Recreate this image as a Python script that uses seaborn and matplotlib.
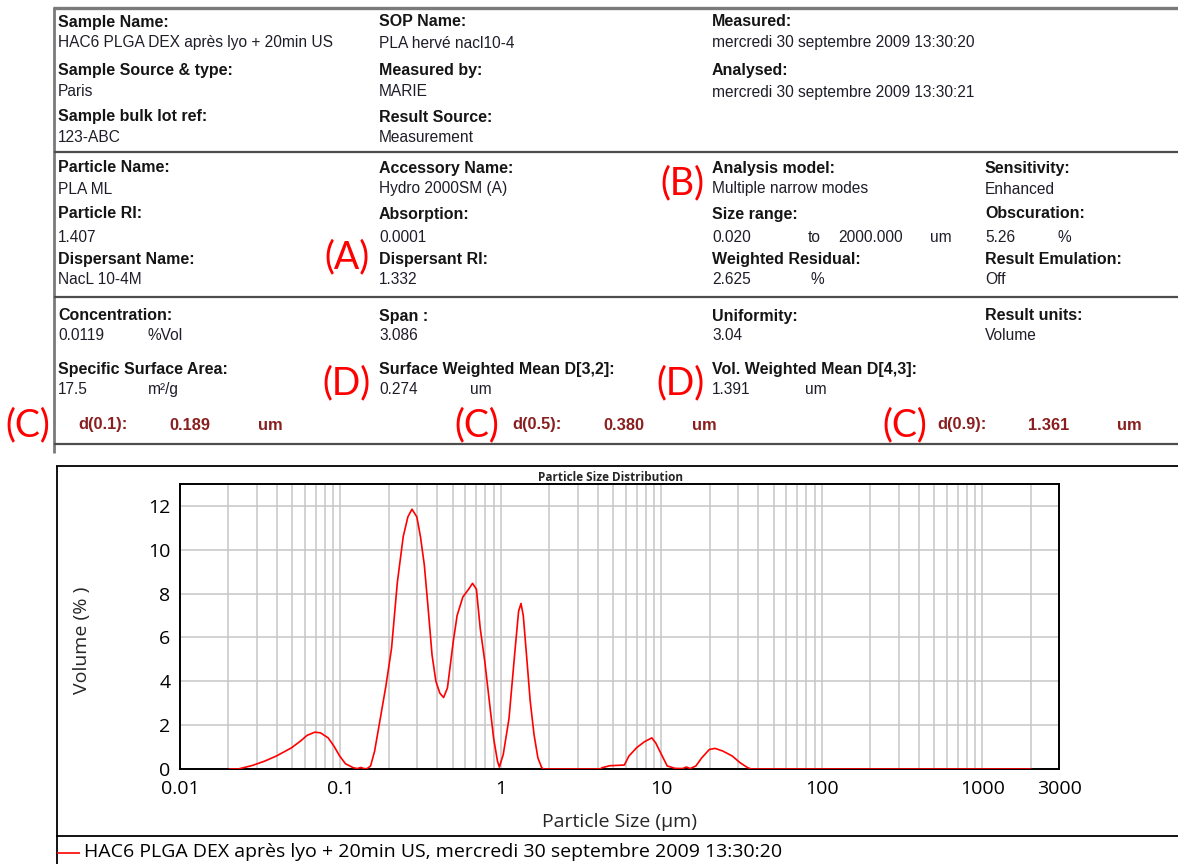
import matplotlib
matplotlib.use("Agg")
import matplotlib.pyplot as plt
from matplotlib.lines import Line2D
from matplotlib.ticker import FixedLocator, LogLocator, NullFormatter, FixedFormatter
import seaborn as sns

# ---------------------------------------------------------------------------
# Measured particle size distribution (volume %)
# ---------------------------------------------------------------------------
size_um = [
    0.0203, 0.0230, 0.0249, 0.0285, 0.0337, 0.0398, 0.0496, 0.0569, 0.0618,
    0.0691, 0.0750, 0.0838, 0.0911, 0.0989, 0.1074, 0.120, 0.127, 0.134,
    0.140, 0.146, 0.154, 0.163, 0.177, 0.192, 0.208, 0.226, 0.246, 0.263,
    0.279, 0.299, 0.315, 0.333, 0.352, 0.372, 0.393, 0.416, 0.439, 0.464,
    0.504, 0.533, 0.579, 0.629, 0.665, 0.703, 0.743, 0.793, 0.852, 0.900,
    0.951, 0.977, 1.033, 1.122, 1.219, 1.288, 1.333, 1.377, 1.439, 1.521,
    1.607, 1.698, 1.794, 1.845, 4.15, 4.27, 4.77, 5.87, 6.27, 7.00, 7.82,
    8.71, 9.21, 10.0, 10.86, 12.13, 13.53, 14.30, 15.11, 16.40, 17.83,
    19.87, 21.58, 24.09, 27.64, 30.85, 34.42, 36.37, 2000.0,
]
volume_pct = [
    0.0, 0.0, 0.06, 0.17, 0.36, 0.59, 0.97, 1.30, 1.53,
    1.68, 1.65, 1.42, 1.04, 0.59, 0.24, 0.06, 0.02, 0.07,
    0.02, 0.01, 0.14, 0.80, 2.30, 3.80, 5.50, 8.50, 10.6, 11.5,
    11.85, 11.5, 10.6, 9.3, 7.3, 5.2, 4.0, 3.46, 3.26, 3.7,
    5.8, 7.0, 7.85, 8.2, 8.47, 8.2, 6.4, 4.9, 2.9, 1.4,
    0.36, 0.09, 0.66, 2.3, 5.3, 7.2, 7.55, 7.0, 5.3, 3.1,
    1.57, 0.51, 0.06, 0.0, 0.0, 0.06, 0.15, 0.18, 0.59, 0.97, 1.24,
    1.42, 1.19, 0.66, 0.14, 0.03, 0.02, 0.09, 0.02, 0.14, 0.51,
    0.89, 0.94, 0.82, 0.59, 0.29, 0.06, 0.0, 0.0,
]

x_ticks = [0.01, 0.1, 1, 10, 100, 1000, 3000]
x_tick_labels = ["0.01", "0.1", "1", "10", "100", "1000", "3000"]
y_ticks = [0, 2, 4, 6, 8, 10, 12]

chart_title = "Particle Size Distribution"
x_label = "Particle Size (µm)"
y_label = "Volume (% )"
series_label = "HAC6 PLGA DEX après lyo + 20min US, mercredi 30 septembre 2009 13:30:20"

# ---------------------------------------------------------------------------
# Report header fields: (label, value pieces)
# ---------------------------------------------------------------------------
sample_fields = [
    [("Sample Name:", ["HAC6 PLGA DEX après lyo + 20min US"]),
     ("Sample Source & type:", ["Paris"]),
     ("Sample bulk lot ref:", ["123-ABC"])],
    [("SOP Name:", ["PLA hervé nacl10-4"]),
     ("Measured by:", ["MARIE"]),
     ("Result Source:", ["Measurement"])],
    [("Measured:", ["mercredi 30 septembre 2009 13:30:20"]),
     ("Analysed:", ["mercredi 30 septembre 2009 13:30:21"])],
]
optics_fields = [
    [("Particle Name:", ["PLA ML"]),
     ("Particle RI:", ["1.407"]),
     ("Dispersant Name:", ["NacL 10-4M"])],
    [("Accessory Name:", ["Hydro 2000SM (A)"]),
     ("Absorption:", ["0.0001"]),
     ("Dispersant RI:", ["1.332"])],
    [("Analysis model:", ["Multiple narrow modes"]),
     ("Size range:", ["0.020", "to", "2000.000", "um"]),
     ("Weighted Residual:", ["2.625", "%"])],
    [("Sensitivity:", ["Enhanced"]),
     ("Obscuration:", ["5.26", "%"]),
     ("Result Emulation:", ["Off"])],
]
result_fields = [
    [("Concentration:", ["0.0119", "%Vol"]),
     ("Specific Surface Area:", ["17.5", "m²/g"])],
    [("Span :", ["3.086"]),
     ("Surface Weighted Mean D[3,2]:", ["0.274", "um"])],
    [("Uniformity:", ["3.04"]),
     ("Vol. Weighted Mean D[4,3]:", ["1.391", "um"])],
    [("Result units:", ["Volume"])],
]
percentile_names = ["d(0.1):", "d(0.5):", "d(0.9):"]
percentile_values = ["0.189", "0.380", "1.361"]
percentile_unit = "um"

# callout markers written over the report
callouts = [("(A)", 347, 257), ("(B)", 682, 183),
            ("(C)", 28, 425), ("(C)", 477, 425), ("(C)", 905, 425),
            ("(D)", 346, 383), ("(D)", 680, 383)]

# ---------------------------------------------------------------------------
# Figure, laid out in pixel coordinates measured from the top-left corner
# ---------------------------------------------------------------------------
sns.set_style("white")
CHART_FONT = ["Open Sans", "DejaVu Sans"]
plt.rcParams["font.family"] = CHART_FONT

W, H = 1178, 864
fig = plt.figure(figsize=(W / 100, H / 100), dpi=100)
fig.patch.set_facecolor("white")


def fx(x):
    return x / W


def fy(y):
    return 1 - y / H


def hline(x0, x1, y, color, lw):
    fig.add_artist(Line2D([fx(x0), fx(x1)], [fy(y), fy(y)], color=color,
                          lw=lw, transform=fig.transFigure, solid_capstyle="butt"))


def vline(x, y0, y1, color, lw):
    fig.add_artist(Line2D([fx(x), fx(x)], [fy(y0), fy(y1)], color=color,
                          lw=lw, transform=fig.transFigure, solid_capstyle="butt"))


REPORT_FONT = ["Liberation Sans", "DejaVu Sans"]
LABEL_KW = dict(family=REPORT_FONT, fontsize=11.5, fontweight="bold", color="#151515")
VALUE_KW = dict(family=REPORT_FONT, fontsize=11.2, color="#1e1e28")


def put(x, y, s, **kw):
    fig.text(fx(x), fy(y), s, ha="left", va="center", **kw)


# horizontal offsets of the pieces of multi-part values
piece_offsets = {
    "Size range:": [0, 96, 126, 218],
    "Weighted Residual:": [0, 98],
    "Obscuration:": [0, 72],
    "Concentration:": [0, 90],
    "Specific Surface Area:": [0, 90],
    "Surface Weighted Mean D[3,2]:": [0, 91],
    "Vol. Weighted Mean D[4,3]:": [0, 93],
}


def draw_section(columns, col_x, label_y, value_y):
    for cx, fields in zip(col_x, columns):
        for (label, pieces), ly, vy in zip(fields, label_y, value_y):
            put(cx, ly, label, **LABEL_KW)
            offs = piece_offsets.get(label, [0])
            for off, piece in zip(offs, pieces):
                put(cx + off, vy, piece, **VALUE_KW)


# report frame
hline(53, W, 8, "#7a7a7a", 2.4)
vline(54, 7, 453, "#7a7a7a", 2.0)
for ysep in (152, 297, 444):
    hline(54, W, ysep, "#4d4d4d", 1.6)

draw_section(sample_fields, [58, 379, 712], [22, 71, 117], [43, 92, 137])
draw_section(optics_fields, [58, 379, 712, 985], [168, 214, 259], [189, 237, 279])
draw_section(result_fields, [58, 379, 712, 985], [316, 370], [336, 390])

for px, name, val in zip([78, 512, 937], percentile_names, percentile_values):
    kw = dict(family=REPORT_FONT, fontsize=11.8, fontweight="bold", color="#8a1f1f")
    put(px, 425, name, **kw)
    put(px + 91, 425, val, **kw)
    put(px + 180, 425, percentile_unit, **kw)

for txt, cx, cy in callouts:
    fig.text(fx(cx), fy(cy), txt, ha="center", va="center", color="#ff0000",
             fontsize=27, family=["Lato", "DejaVu Sans"])

# chart frame
hline(56, W, 466, "black", 1.3)
vline(57, 466, H, "black", 1.3)
hline(56, W, 836, "black", 1.3)

# ---------------------------------------------------------------------------
# Distribution plot
# ---------------------------------------------------------------------------
left, right, top, bottom = 180, 1059, 484, 769
ax = fig.add_axes([fx(left), fy(bottom), (right - left) / W, (bottom - top) / H])
ax.set_xscale("log")
ax.set_xlim(0.01, 3000)
ax.set_ylim(0, 13)

sns.lineplot(x=size_um, y=volume_pct, ax=ax, color="#ff0000", linewidth=1.2,
             sort=False, zorder=5)

ax.xaxis.set_major_locator(FixedLocator(x_ticks))
ax.xaxis.set_major_formatter(FixedFormatter(x_tick_labels))
ax.xaxis.set_minor_locator(LogLocator(base=10, subs=[2, 3, 4, 5, 6, 7, 8, 9], numticks=20))
ax.xaxis.set_minor_formatter(NullFormatter())
ax.set_yticks(y_ticks)
ax.set_yticklabels([str(v) for v in y_ticks])

ax.grid(True, which="both", axis="x", color="#c6c6c6", linewidth=1.1)
ax.grid(True, which="major", axis="y", color="#c6c6c6", linewidth=1.1)
ax.set_axisbelow(True)
ax.tick_params(axis="both", which="both", length=0, labelsize=14, colors="black")
ax.tick_params(axis="x", pad=8)
ax.tick_params(axis="y", pad=7)
for sp in ax.spines.values():
    sp.set_visible(True)
    sp.set_color("black")
    sp.set_linewidth(1.4)

ax.set_xlabel(x_label, fontsize=14)
ax.xaxis.set_label_coords(0.5, -(822 - bottom) / (bottom - top), transform=ax.transAxes)
ax.xaxis.label.set_va("center")
ax.set_ylabel(y_label, fontsize=14)
ax.yaxis.set_label_coords(-(left - 82) / (right - left), (bottom - 640) / (bottom - top),
                          transform=ax.transAxes)
ax.yaxis.label.set_va("center")
fig.text(fx(610), fy(477), chart_title, ha="center", va="center",
         fontsize=8.5, fontweight="bold")

# series key under the chart
hline(57, 80, 853, "#ff0000", 1.2)
put(84, 852, series_label, fontsize=14, color="black")

fig.savefig("out.png", dpi=100, facecolor="white")
